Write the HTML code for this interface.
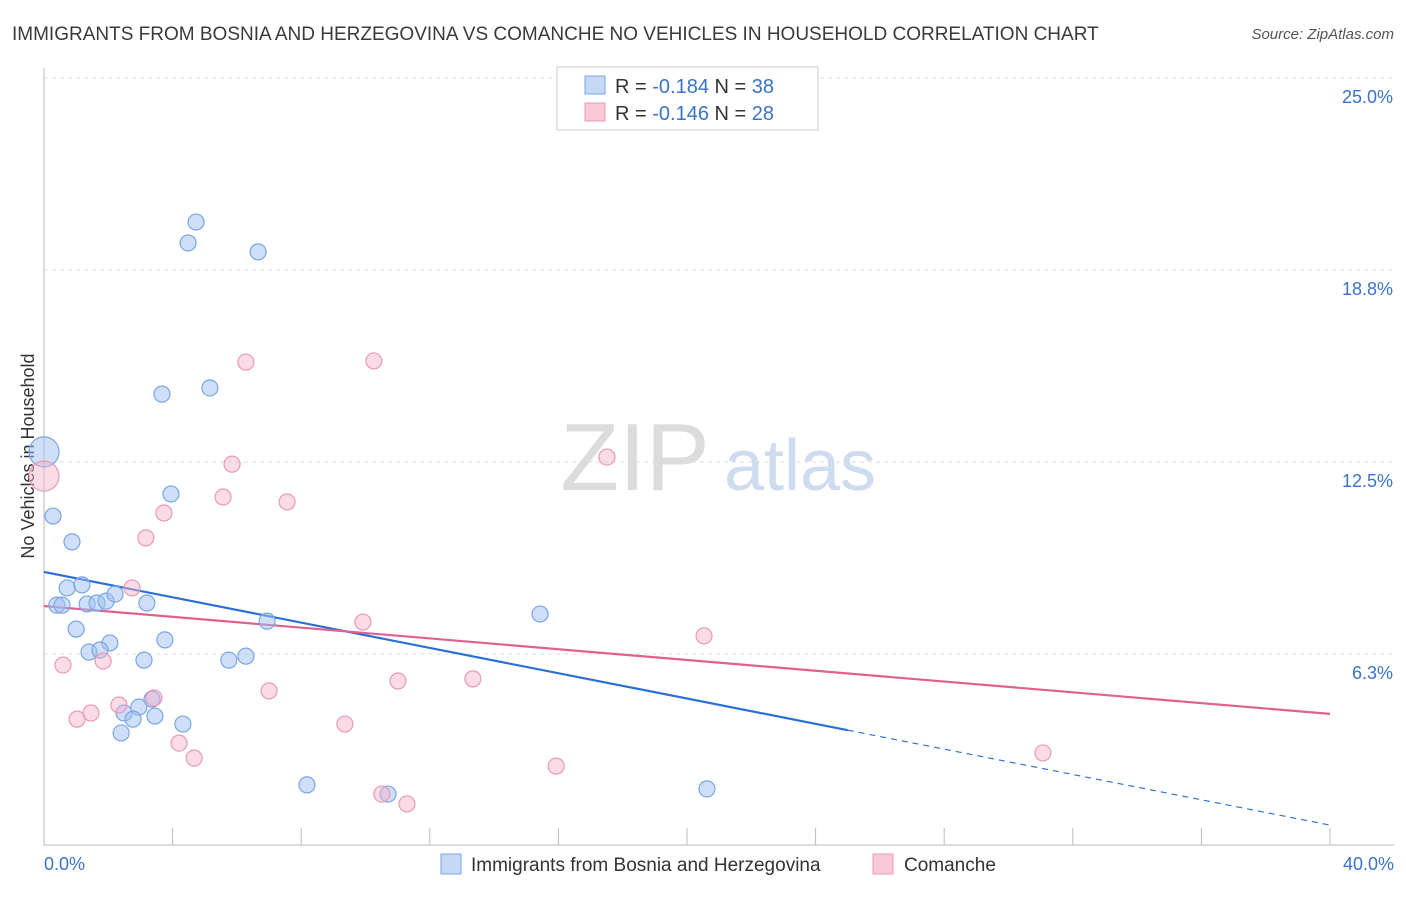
<!DOCTYPE html>
<html><head><meta charset="utf-8"><style>
body{margin:0;background:#fff;font-family:"Liberation Sans",sans-serif;}
svg text{font-family:"Liberation Sans",sans-serif;}
</style></head><body>
<svg id="chart" width="1406" height="892" xmlns="http://www.w3.org/2000/svg">
<text x="12" y="40" font-size="19" fill="#3a3a3a">IMMIGRANTS FROM BOSNIA AND HERZEGOVINA VS COMANCHE NO VEHICLES IN HOUSEHOLD CORRELATION CHART</text>
<text x="1394" y="39" font-size="15" fill="#555" font-style="italic" text-anchor="end">Source: ZipAtlas.com</text>
<text transform="translate(34,456) rotate(-90)" font-size="18" fill="#333" text-anchor="middle">No Vehicles in Household</text>
<g>
<text x="635" y="490" font-size="96" fill="#dcdcdc" font-family="Liberation Serif" text-anchor="middle">ZIP</text>
<text x="800" y="490" font-size="72" fill="#cfdcf0" text-anchor="middle">atlas</text>
</g>
<g id="grid"></g><g id="axes"></g><g id="trends"></g><g id="points"></g>
<g>
<rect x="557" y="67" width="261" height="63" fill="#fff" stroke="#ccc"/>
<rect x="585" y="76" width="20" height="18" fill="#c5d8f5" stroke="#7aa6e6"/>
<rect x="585" y="103" width="20" height="18" fill="#f9c9d8" stroke="#e89ab5"/>
<text x="615" y="93" font-size="20" fill="#333">R = <tspan fill="#3b73c9">-0.184</tspan>   N = <tspan fill="#3b73c9">38</tspan></text>
<text x="615" y="120" font-size="20" fill="#333">R = <tspan fill="#3b73c9">-0.146</tspan>   N = <tspan fill="#3b73c9">28</tspan></text>
</g>
<g>
<rect x="441" y="854" width="20" height="20" fill="#c5d8f5" stroke="#7aa6e6"/>
<text x="471" y="871" font-size="19" fill="#333">Immigrants from Bosnia and Herzegovina</text>
<rect x="873" y="854" width="20" height="20" fill="#f9c9d8" stroke="#e89ab5"/>
<text x="904" y="871" font-size="19" fill="#333">Comanche</text>
</g>
<text x="44" y="870" font-size="18" fill="#3b73c9">0.0%</text>
<text x="1394" y="870" font-size="18" fill="#3b73c9" text-anchor="end">40.0%</text>
</svg>
<script>
const blueX=[0,0.28,0.87,0.40,0.56,0.72,1.18,1.34,1.65,1.93,2.21,1.00,2.05,1.40,1.74,3.20,3.76,3.11,3.95,3.67,5.16,4.48,4.73,6.66,6.94,5.75,6.28,3.36,2.95,2.49,2.77,3.45,4.32,2.40,8.18,10.70,15.43,20.62];
const blueY=[12.83,10.74,9.90,7.84,7.84,8.40,8.50,7.88,7.91,7.97,8.20,7.06,6.61,6.31,6.38,7.91,6.71,6.05,11.46,14.71,14.91,19.63,20.31,19.34,7.32,6.05,6.18,4.78,4.52,4.33,4.13,4.23,3.97,3.68,1.99,1.69,7.55,1.86];
const pinkX=[0,0.59,1.03,1.46,1.84,2.74,3.17,3.73,2.33,3.42,4.20,4.67,5.57,5.85,6.28,7.56,7.00,9.36,9.92,10.26,11.01,10.51,11.29,13.34,15.93,17.51,20.53,31.07];
const pinkY=[12.04,5.89,4.13,4.33,6.02,8.40,10.03,10.84,4.59,4.82,3.35,2.86,11.36,12.43,15.75,11.20,5.05,3.97,7.29,15.79,5.37,1.69,1.37,5.44,2.60,12.66,6.84,3.03];
const blueTrend=[8.92,0.68];
const pinkTrend=[7.81,4.30];
const yTicks=[6.25,12.5,18.75,25];
const yTickLabels=["6.3%","12.5%","18.8%","25.0%"];
const xTicks=[0,4,8,12,16,20,24,28,32,36,40];
const NS="http://www.w3.org/2000/svg";
const sx=v=>44+v/40*1286, sy=v=>846-v/25*768;
function mk(t,a,p){const e=document.createElementNS(NS,t);for(const k in a)e.setAttribute(k,a[k]);p.appendChild(e);return e;}
const grid=document.getElementById('grid'),axes=document.getElementById('axes'),tr=document.getElementById('trends'),pts=document.getElementById('points');
yTicks.forEach((v,i)=>{
 const l=mk('line',{x1:44,x2:1394,y1:sy(v),y2:sy(v),stroke:'#ddd','stroke-dasharray':'4,4'},grid);
 
 
 const t=mk('text',{x:1393,y:sy(v)+25,'font-size':18,fill:'#3b73c9','text-anchor':'end'},axes);
 t.textContent=yTickLabels[i];
 
 
});
const ax=mk('line',{x1:44,x2:1394,y1:845,y2:845,stroke:'#bbb'},axes);


const ay=mk('line',{x1:44,x2:44,y1:68,y2:845,stroke:'#bbb'},axes);


xTicks.forEach(v=>{
 const l=mk('line',{x1:sx(v),x2:sx(v),y1:828,y2:845,stroke:'#bbb'},axes);
 
 
});
function pt(x,y,r,fill,stroke,name){
 const c=mk('circle',{cx:sx(x),cy:sy(y),r:r,fill:fill,stroke:stroke,'stroke-width':1.2},pts);
 
 
}
blueX.forEach((x,i)=>pt(x,blueY[i],i===0?15:8,'rgba(160,192,240,0.5)','#7aa6e6','bosnia-point'));
pinkX.forEach((x,i)=>pt(x,pinkY[i],i===0?15:8,'rgba(245,175,200,0.45)','#e89ab5','comanche-point'));
const bAt=x=>blueTrend[0]+(blueTrend[1]-blueTrend[0])*x/40;
const l1=mk('line',{x1:sx(0),y1:sy(bAt(0)),x2:sx(25),y2:sy(bAt(25)),stroke:'#2a6fd6','stroke-width':2.2},tr);


const l2=mk('line',{x1:sx(25),y1:sy(bAt(25)),x2:sx(40),y2:sy(bAt(40)),stroke:'#2a6fd6','stroke-width':1.2,'stroke-dasharray':'6,5'},tr);


const l3=mk('line',{x1:sx(0),y1:sy(pinkTrend[0]),x2:sx(40),y2:sy(pinkTrend[1]),stroke:'#e0608f','stroke-width':2.2},tr);


</script>
</body></html>
